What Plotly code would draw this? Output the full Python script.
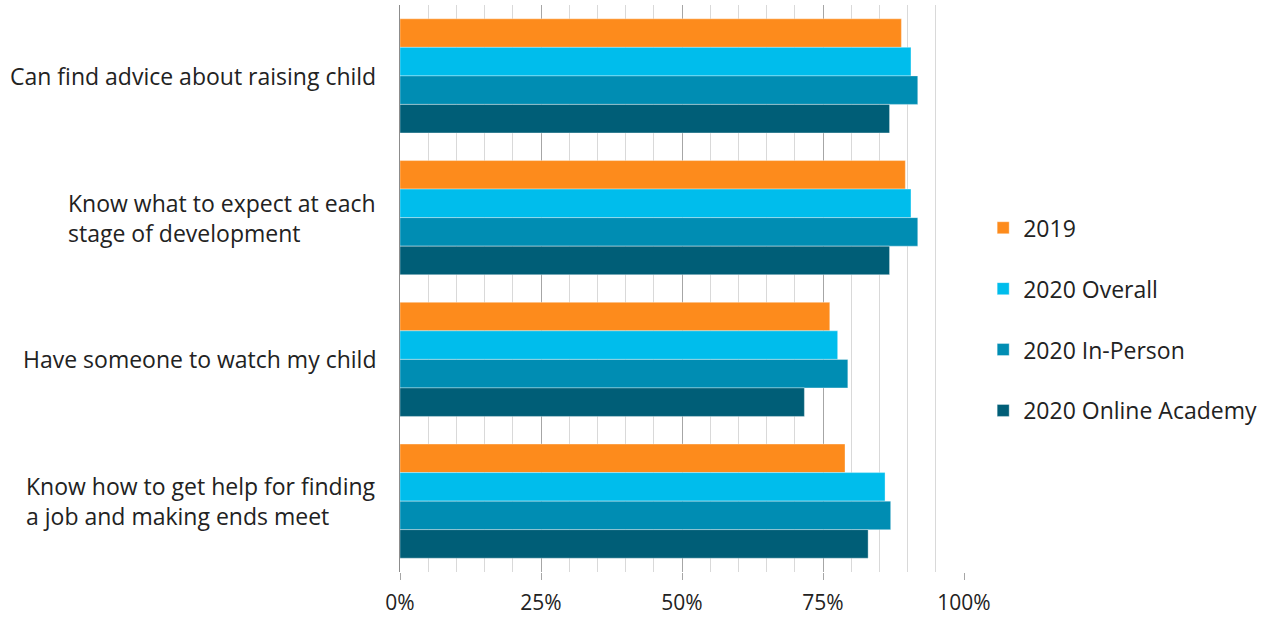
import plotly.graph_objects as go

categories = [
    "Can find advice about raising child",
    "Know what to expect at each<br>stage of development",
    "Have someone to watch my child",
    "Know how to get help for finding<br>a job and making ends meet",
]
series_names = ["2019", "2020 Overall", "2020 In-Person", "2020 Online Academy"]
values_2019 = [88.9, 89.6, 76.2, 78.9]
values_2020_overall = [90.6, 90.6, 77.6, 86.0]
values_2020_in_person = [91.8, 91.8, 79.4, 87.0]
values_2020_online = [86.8, 86.8, 71.7, 83.0]
colors = ["#FD8B1C", "#00BDEC", "#008DB3", "#005E77"]
x_ticks = [0, 25, 50, 75, 100]
x_tick_labels = ["0%", "25%", "50%", "75%", "100%"]

FONT = "'Open Sans', Lato, sans-serif"
TEXT = "#222222"

fig = go.Figure()
all_values = [values_2019, values_2020_overall, values_2020_in_person, values_2020_online]
for name, vals, col in zip(series_names, all_values, colors):
    fig.add_trace(go.Bar(
        y=categories, x=vals, name=name, orientation="h",
        marker=dict(color=col, line=dict(color="rgba(255,255,255,0.35)", width=1)),
        legendgroup=name, hoverinfo="x+name",
    ))

# Left-aligned multi-line category labels placed beside the axis
for cat in categories:
    fig.add_annotation(
        x=0, xref="paper", y=cat, yref="y", text=cat, showarrow=False,
        xanchor="right", yanchor="middle", align="left", xshift=-22,
        font=dict(family=FONT, size=23, color=TEXT),
    )

fig.update_layout(
    width=1276, height=619,
    margin=dict(l=400, r=312, t=5, b=47, autoexpand=False),
    paper_bgcolor="white", plot_bgcolor="white",
    barmode="group", bargap=0.195, bargroupgap=0,
    font=dict(family=FONT, size=21, color=TEXT),
    legend=dict(
        x=1.034, xanchor="left", y=0.645, yanchor="top",
        traceorder="grouped", tracegroupgap=28,
        font=dict(family=FONT, size=23, color=TEXT),
        itemwidth=30,
    ),
    xaxis=dict(
        range=[0, 100], tickvals=x_ticks, ticktext=x_tick_labels,
        showgrid=True, gridcolor="#A6A6A6", gridwidth=1,
        minor=dict(dtick=5, showgrid=True, gridcolor="#D9D9D9", gridwidth=1),
        ticks="outside", ticklen=7, tickcolor="#A6A6A6",
        ticklabelstandoff=5, automargin=False,
        tickfont=dict(family=FONT, size=21, color=TEXT),
        zeroline=False, showline=False, fixedrange=True,
    ),
    yaxis=dict(
        autorange="reversed", showticklabels=False, ticks="",
        showline=True, linecolor="#8C8C8C", linewidth=1,
        showgrid=False, fixedrange=True, automargin=False,
    ),
)

fig.write_html("out.html")
